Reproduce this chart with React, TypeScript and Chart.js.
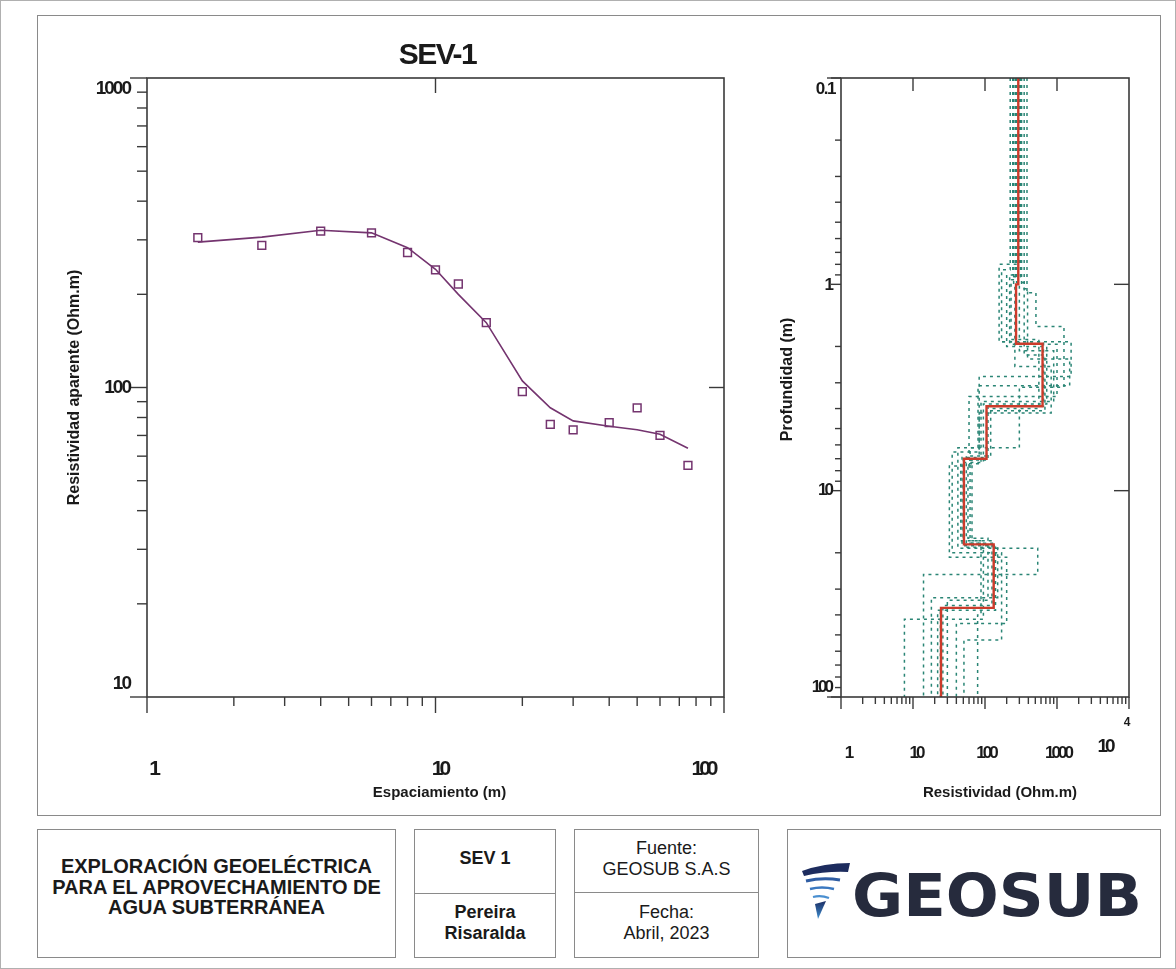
import React, { useEffect, useRef } from 'react';
import { Chart, registerables } from 'chart.js';

Chart.register(...registerables);

// ---------- DATA ----------
// Left: apparent resistivity sounding curve
const spacing = [1.5, 2.5, 4, 6, 8, 10, 12, 15, 20, 25, 30, 40, 50, 60, 75];
const apparentRes = [305, 288, 320, 316, 273, 240, 216, 162, 97, 76, 73, 77, 86, 70, 56];
const modelRes = [295, 306, 322, 316, 283, 241, 200, 162, 105, 86, 78, 75, 73, 70.6, 63.6];

// Right: layered model (resistivity per layer, interface depths)
const layerRes = [290, 270, 630, 105, 51, 132, 24.5];
const layerDepth = [1.0, 1.94, 3.9, 7.0, 18.2, 37];

// Equivalent models
const equivRes = [
  [224, 170, 650, 110, 50, 135, 24],
  [243, 200, 720, 95, 46, 125, 26],
  [264, 230, 560, 120, 55, 140, 22],
  [322, 300, 900, 88, 58, 110, 30],
  [350, 390, 1500, 80, 42, 540, 14],
  [383, 510, 1250, 300, 62, 95, 7.6],
  [300, 157, 1570, 83, 35, 170, 51],
  [250, 260, 830, 83, 66, 88, 79],
  [310, 220, 1000, 60, 32, 200, 40],
  [275, 350, 680, 105, 48, 150, 18],
];
const equivDepth = [
  [0.85, 1.9, 3.9, 7.1, 18.0, 37],
  [0.9, 2.0, 3.8, 7.3, 17.5, 36],
  [0.95, 1.85, 4.0, 6.8, 18.8, 38],
  [1.0, 2.1, 3.7, 7.4, 17.0, 34],
  [1.05, 2.3, 3.1, 6.2, 19.0, 25.5],
  [1.1, 1.6, 3.15, 6.2, 17.5, 42],
  [0.8, 1.9, 2.8, 6.5, 20, 53],
  [1.0, 2.5, 4.2, 7.0, 18, 40],
  [0.92, 1.95, 3.5, 7.6, 21, 44],
  [0.98, 2.2, 4.1, 6.9, 18.5, 33],
];

// Axis ranges & tick labels
const leftXRange = [1, 100];
const leftYRange = [10, 1000];
const rightXRange = [1, 10000];
const rightYRange = [0.1, 100];
const leftXTicks = [1, 10, 100];
const leftYTicks = [10, 100, 1000];
const rightXTicks = [1, 10, 100, 1000, 10000];
const rightYTicks = [0.1, 1, 10, 100];

// ---------- STYLE ----------
const PURPLE = '#74346f';
const RED = '#cc3b2b';
const TEAL = '#2a8575';
const AXIS = '#3a3a3a';
const FONT = '"Liberation Sans", Arial, sans-serif';

function minorTicks(lo: number, hi: number) {
  const out: number[] = [];
  for (let d = lo; d < hi; d *= 10) {
    for (let m = 2; m <= 9; m++) out.push(+(m * d).toPrecision(6));
  }
  return out;
}

function steps(res: number[], depth: number[], top: number, bottom: number) {
  const pts: { x: number; y: number }[] = [];
  let z = top;
  res.forEach((r, i) => {
    const zb = i < depth.length ? depth[i] : bottom;
    pts.push({ x: r, y: z }, { x: r, y: zb });
    z = zb;
  });
  return pts;
}

function hLine(ctx: CanvasRenderingContext2D, x1: number, x2: number, y: number) {
  ctx.beginPath();
  ctx.moveTo(x1, y);
  ctx.lineTo(x2, y);
  ctx.stroke();
}
function vLine(ctx: CanvasRenderingContext2D, x: number, y1: number, y2: number) {
  ctx.beginPath();
  ctx.moveTo(x, y1);
  ctx.lineTo(x, y2);
  ctx.stroke();
}
function label(
  ctx: CanvasRenderingContext2D,
  s: string,
  x: number,
  y: number,
  font: string,
  align: CanvasTextAlign,
  spacingPx = 0,
  rotate = 0
) {
  ctx.save();
  ctx.font = font;
  (ctx as any).letterSpacing = spacingPx + 'px';
  ctx.fillStyle = '#1a1a1a';
  ctx.textAlign = align;
  ctx.textBaseline = 'middle';
  ctx.translate(x, y);
  if (rotate) ctx.rotate(rotate);
  ctx.fillText(s, 0, 0);
  ctx.restore();
}

const leftFurniture = {
  id: 'leftFurniture',
  afterDatasetsDraw(chart: any) {
    const { ctx, chartArea: a } = chart;
    const sx = chart.scales.x;
    const sy = chart.scales.y;
    ctx.save();
    ctx.strokeStyle = AXIS;
    ctx.lineWidth = 1.6;
    ctx.strokeRect(a.left, a.top, a.right - a.left, a.bottom - a.top);
    ctx.lineWidth = 1.4;
    // left axis
    leftYTicks.forEach((v) => hLine(ctx, a.left - 17, a.left, sy.getPixelForValue(v)));
    minorTicks(10, 1000).forEach((v) => hLine(ctx, a.left - 10, a.left, sy.getPixelForValue(v)));
    // bottom axis
    leftXTicks.forEach((v) => vLine(ctx, sx.getPixelForValue(v), a.bottom, a.bottom + 16));
    minorTicks(1, 100).forEach((v) => vLine(ctx, sx.getPixelForValue(v), a.bottom, a.bottom + 9));
    // inward majors on top & right
    vLine(ctx, sx.getPixelForValue(10), a.top, a.top + 15);
    hLine(ctx, a.right - 15, a.right, sy.getPixelForValue(100));
    ctx.restore();

    const tickFontX = `bold 21px ${FONT}`;
    const tickFontY = `bold 19px ${FONT}`;
    label(ctx, '1', sx.getPixelForValue(1) + 6, a.bottom + 72, tickFontX, 'center', -4);
    label(ctx, '10', sx.getPixelForValue(10) + 4, a.bottom + 72, tickFontX, 'center', -4);
    label(ctx, '100', sx.getPixelForValue(100) - 21, a.bottom + 72, tickFontX, 'center', -4);
    label(ctx, '1000', a.left - 17, sy.getPixelForValue(1000) + 11, tickFontY, 'right', -2);
    label(ctx, '100', a.left - 17, sy.getPixelForValue(100), tickFontY, 'right', -2);
    label(ctx, '10', a.left - 17, sy.getPixelForValue(10) - 13, tickFontY, 'right', -2);

    label(ctx, 'SEV-1', sx.getPixelForValue(10) + 2, a.top - 22, `bold 30px ${FONT}`, 'center', -1.5);
    label(ctx, 'Espaciamiento (m)', sx.getPixelForValue(10) + 4, a.bottom + 96, `bold 15px ${FONT}`, 'center');
    label(
      ctx,
      'Resistividad aparente (Ohm.m)',
      a.left - 72,
      (a.top + a.bottom) / 2,
      `bold 16px ${FONT}`,
      'center',
      0,
      -Math.PI / 2
    );
  },
};

const rightFurniture = {
  id: 'rightFurniture',
  afterDatasetsDraw(chart: any) {
    const { ctx, chartArea: a } = chart;
    const sx = chart.scales.x;
    const sy = chart.scales.y;
    ctx.save();
    ctx.strokeStyle = AXIS;
    ctx.lineWidth = 1.6;
    ctx.strokeRect(a.left, a.top, a.right - a.left, a.bottom - a.top);
    ctx.lineWidth = 1.4;
    hLine(ctx, a.left - 14, a.left, a.top);
    hLine(ctx, a.left - 14, a.left, a.bottom);
    rightYTicks.forEach((v) => hLine(ctx, a.left - 10, a.left, sy.getPixelForValue(v)));
    minorTicks(0.1, 100).forEach((v) => hLine(ctx, a.left - 6, a.left, sy.getPixelForValue(v)));
    rightXTicks.forEach((v) => vLine(ctx, sx.getPixelForValue(v), a.bottom, a.bottom + 12));
    minorTicks(1, 10000).forEach((v) => vLine(ctx, sx.getPixelForValue(v), a.bottom, a.bottom + 7));
    [10, 100, 1000].forEach((v) => vLine(ctx, sx.getPixelForValue(v), a.top, a.top + 13));
    [1, 10].forEach((v) => hLine(ctx, a.right - 15, a.right, sy.getPixelForValue(v)));
    ctx.restore();

    const tf = `bold 17px ${FONT}`;
    const ly = a.bottom + 56;
    label(ctx, '1', sx.getPixelForValue(1) + 7, ly, tf, 'center', -3);
    label(ctx, '10', sx.getPixelForValue(10) + 3, ly, tf, 'center', -3);
    label(ctx, '100', sx.getPixelForValue(100) + 1, ly, tf, 'center', -3);
    label(ctx, '1000', sx.getPixelForValue(1000) + 1, ly, tf, 'center', -3);
    label(ctx, '10', sx.getPixelForValue(10000) - 24, ly - 6, `bold 19px ${FONT}`, 'center', -3);
    label(ctx, '4', sx.getPixelForValue(10000) - 2, ly - 30, `bold 12px ${FONT}`, 'center');
    label(ctx, '0.1', a.left - 6, sy.getPixelForValue(0.1) + 11, tf, 'right', -1.5);
    label(ctx, '1', a.left - 10, sy.getPixelForValue(1) + 1, tf, 'right', -3);
    label(ctx, '10', a.left - 10, sy.getPixelForValue(10), tf, 'right', -3);
    label(ctx, '100', a.left - 10, sy.getPixelForValue(100) - 10, tf, 'right', -3);

    label(ctx, 'Resistividad (Ohm.m)', (a.left + a.right) / 2 + 15, a.bottom + 96, `bold 15px ${FONT}`, 'center');
    label(
      ctx,
      'Profundidad (m)',
      a.left - 53,
      (a.top + a.bottom) / 2 - 8,
      `bold 16px ${FONT}`,
      'center',
      0,
      -Math.PI / 2
    );
  },
};

function LeftChart() {
  const ref = useRef<HTMLCanvasElement>(null);
  useEffect(() => {
    const chart = new Chart(ref.current as HTMLCanvasElement, {
      type: 'line',
      data: {
        datasets: [
          {
            label: 'Observado',
            data: spacing.map((s, i) => ({ x: s, y: apparentRes[i] })),
            showLine: false,
            pointStyle: 'rect',
            pointRadius: 5.5,
            pointBorderWidth: 1.5,
            pointBorderColor: PURPLE,
            pointBackgroundColor: 'rgba(0,0,0,0)',
            borderColor: PURPLE,
          },
          {
            label: 'Modelo',
            data: spacing.map((s, i) => ({ x: s, y: modelRes[i] })),
            borderColor: PURPLE,
            borderWidth: 1.6,
            pointRadius: 0,
            tension: 0,
          },
        ],
      } as any,
      options: {
        responsive: false,
        maintainAspectRatio: false,
        animation: false,
        events: [],
        layout: { padding: { left: 106, top: 59, right: 17, bottom: 114 } },
        plugins: { legend: { display: false }, tooltip: { enabled: false } },
        scales: {
          x: { type: 'logarithmic', min: leftXRange[0], max: leftXRange[1], display: false },
          y: { type: 'logarithmic', min: leftYRange[0], max: leftYRange[1], display: false },
        },
      } as any,
      plugins: [leftFurniture],
    });
    return () => chart.destroy();
  }, []);
  return (
    <canvas
      ref={ref}
      width={700}
      height={792}
      style={{ position: 'absolute', left: 40, top: 18, width: 700, height: 792 }}
    />
  );
}

function RightChart() {
  const ref = useRef<HTMLCanvasElement>(null);
  useEffect(() => {
    const top = rightYRange[0];
    const bottom = rightYRange[1];
    const datasets: any[] = [
      {
        label: 'Modelo',
        data: steps(layerRes, layerDepth, top, bottom),
        borderColor: RED,
        borderWidth: 2.4,
        pointRadius: 0,
        tension: 0,
      },
    ];
    equivRes.forEach((res, k) => {
      datasets.push({
        label: 'Equivalente ' + (k + 1),
        data: steps(res, equivDepth[k], top, bottom),
        borderColor: TEAL,
        borderWidth: 1.5,
        borderDash: [3, 4],
        pointRadius: 0,
        tension: 0,
      });
    });
    const chart = new Chart(ref.current as HTMLCanvasElement, {
      type: 'line',
      data: { datasets },
      options: {
        responsive: false,
        maintainAspectRatio: false,
        animation: false,
        events: [],
        layout: { padding: { left: 95, top: 59, right: 27, bottom: 114 } },
        plugins: { legend: { display: false }, tooltip: { enabled: false } },
        scales: {
          x: { type: 'logarithmic', min: rightXRange[0], max: rightXRange[1], display: false },
          y: { type: 'logarithmic', min: top, max: bottom, reverse: true, display: false },
        },
      } as any,
      plugins: [rightFurniture],
    });
    return () => chart.destroy();
  }, []);
  return (
    <canvas
      ref={ref}
      width={410}
      height={792}
      style={{ position: 'absolute', left: 745, top: 18, width: 410, height: 792 }}
    />
  );
}

const boxBorder = '1.3px solid #8a8a8a';

function Box(props: { left: number; top: number; width: number; height: number; children?: any; style?: any }) {
  return (
    <div
      style={{
        position: 'absolute',
        left: props.left,
        top: props.top,
        width: props.width,
        height: props.height,
        border: boxBorder,
        boxSizing: 'border-box',
        ...props.style,
      }}
    >
      {props.children}
    </div>
  );
}

const cellText = (bold: boolean): React.CSSProperties => ({
  position: 'absolute',
  left: 0,
  right: 0,
  textAlign: 'center',
  fontFamily: FONT,
  fontWeight: bold ? 700 : 400,
  fontSize: 18,
  lineHeight: '21px',
  color: '#1a1a1a',
});

function Logo() {
  return (
    <svg width={372} height={126} style={{ position: 'absolute', left: 0, top: 0 }}>
      <defs>
        <linearGradient id="gblue" x1="0" y1="0" x2="0" y2="1">
          <stop offset="0" stopColor="#1c2f66" />
          <stop offset="1" stopColor="#3f8fd0" />
        </linearGradient>
      </defs>
      <path d="M14,41 Q36,33 62,33 L60,42 Q38,41 16,46 Z" fill="#1d2c5e" />
      <path d="M18,51 Q35,47 52,50" stroke="#2f5da3" strokeWidth={3} fill="none" />
      <path d="M22,59 Q34,56 46,59" stroke="#3a78c0" strokeWidth={2.6} fill="none" />
      <path d="M25,67 Q33,65 41,68" stroke="#4a8fd0" strokeWidth={2.2} fill="none" />
      <path d="M27,74 L38,71 L30,89 Z" fill="url(#gblue)" />
      <text
        x={64}
        y={86}
        textLength={290}
        lengthAdjust="spacingAndGlyphs"
        style={{ fontFamily: '"DejaVu Sans", sans-serif', fontWeight: 900, fontSize: 58 }}
        fill="#262b3d"
      >
        GEOSUB
      </text>
    </svg>
  );
}

export default function App() {
  return (
    <div
      style={{
        position: 'absolute',
        left: 0,
        top: 0,
        width: 1176,
        height: 969,
        background: '#ffffff',
        border: '1px solid #b0b0b0',
        boxSizing: 'border-box',
        overflow: 'hidden',
      }}
    >
      <Box left={36} top={14} width={1124} height={801} />
      <LeftChart />
      <RightChart />

      <Box left={36} top={828} width={359} height={129}>
        <div style={{ ...cellText(true), top: 26, fontSize: 20, lineHeight: '20.5px' }}>
          EXPLORACIÓN GEOELÉCTRICA
          <br />
          PARA EL APROVECHAMIENTO DE
          <br />
          AGUA SUBTERRÁNEA
        </div>
      </Box>
      <Box left={413} top={828} width={142} height={129}>
        <div style={{ position: 'absolute', left: 0, right: 0, top: 63, borderTop: boxBorder }} />
        <div style={{ ...cellText(true), top: 18 }}>SEV 1</div>
        <div style={{ ...cellText(true), top: 72 }}>
          Pereira
          <br />
          Risaralda
        </div>
      </Box>
      <Box left={573} top={828} width={185} height={129}>
        <div style={{ position: 'absolute', left: 0, right: 0, top: 62, borderTop: boxBorder }} />
        <div style={{ ...cellText(false), top: 8 }}>
          Fuente:
          <br />
          GEOSUB S.A.S
        </div>
        <div style={{ ...cellText(false), top: 72 }}>
          Fecha:
          <br />
          Abril, 2023
        </div>
      </Box>
      <Box left={786} top={828} width={374} height={129}>
        <Logo />
      </Box>
    </div>
  );
}
